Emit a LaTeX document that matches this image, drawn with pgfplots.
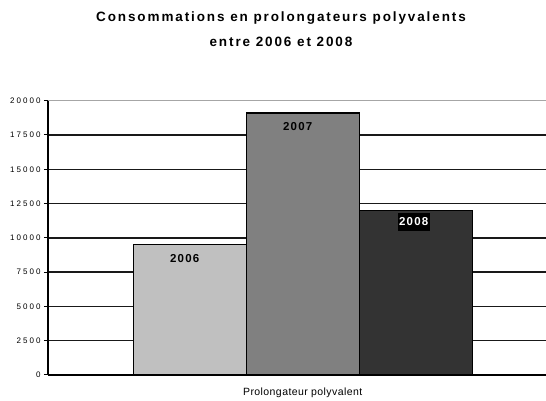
\documentclass[border=0pt]{standalone}
\usepackage{fontspec}
\setmainfont{Liberation Sans}
\usepackage{pgfplots}
\pgfplotsset{compat=1.18}
\newfontfamily\titlefam[LetterSpace=14]{Liberation Sans}
\newfontfamily\barfam[LetterSpace=10]{Liberation Sans}
\newfontfamily\tickfam[LetterSpace=25]{Liberation Sans}
\newfontfamily\labfam[LetterSpace=4]{Liberation Sans}
\newcommand\titlefont{\titlefam\bfseries\fontsize{13.5}{16}\selectfont}
\newcommand\barfont{\barfam\bfseries\fontsize{11.5}{13}\selectfont}
\newcommand\tickfont{\tickfam\fontsize{8}{9}\selectfont}
\newcommand\labfont{\labfam\fontsize{10.5}{12}\selectfont}
\definecolor{c2006}{HTML}{C0C0C0}
\definecolor{c2007}{HTML}{808080}
\definecolor{c2008}{HTML}{333333}
\begin{document}
\begin{tikzpicture}
\path[use as bounding box] (-48pt,-26pt) rectangle (498pt,375pt);
\begin{axis}[
  at={(0pt,0pt)}, anchor=south west,
  scale only axis, width=498pt, height=274.3pt,
  xmin=-0.254, xmax=4.153, ymin=0, ymax=20000,
  axis x line*=bottom, axis y line*=left,
  axis line style={black, line width=1.5pt, -},
  ytick={0,2500,...,20000},
  ymajorgrids, grid style={black!90, line width=1.5pt},
  xtick={2}, xticklabels={Prolongateur polyvalent},
  tick align=outside, major tick length=4pt,
  xtick style={draw=none},
  ytick style={black, line width=1pt},
  yticklabel style={font=\tickfont},
  /pgf/number format/assume math mode=true,
  /pgf/number format/1000 sep={},
  scaled y ticks=false,
  xticklabel style={font=\labfont, yshift=-5pt},
  ybar, bar width=1, bar shift=0pt,
  clip=false,
  nodes near coords align={below},
]
\addplot[fill=c2006, draw=black, line width=1.1pt, nodes near coords={2006},
  every node near coord/.append style={font=\barfont, text=black, yshift=-6pt, xshift=-5pt}]
  coordinates {(1,9500)};
\addplot[fill=c2007, draw=black, line width=1.1pt, nodes near coords={2007},
  every node near coord/.append style={font=\barfont, text=black, yshift=-6pt, xshift=-5pt}]
  coordinates {(2,19100)};
\addplot[fill=c2008, draw=black, line width=1.1pt, nodes near coords={2008},
  every node near coord/.append style={font=\barfont, text=white, fill=black, inner xsep=1.5pt, inner ysep=4.5pt, yshift=-2.5pt, xshift=-2pt}]
  coordinates {(3,12000)};
\draw[gray!70, line width=1.6pt] (rel axis cs:0,1) -- (rel axis cs:1,1);
\end{axis}
\node[font=\titlefont] at (233pt,357pt) {Consommations en prolongateurs polyvalents};
\node[font=\titlefont] at (233pt,333pt) {entre 2006 et 2008};
\end{tikzpicture}
\end{document}
